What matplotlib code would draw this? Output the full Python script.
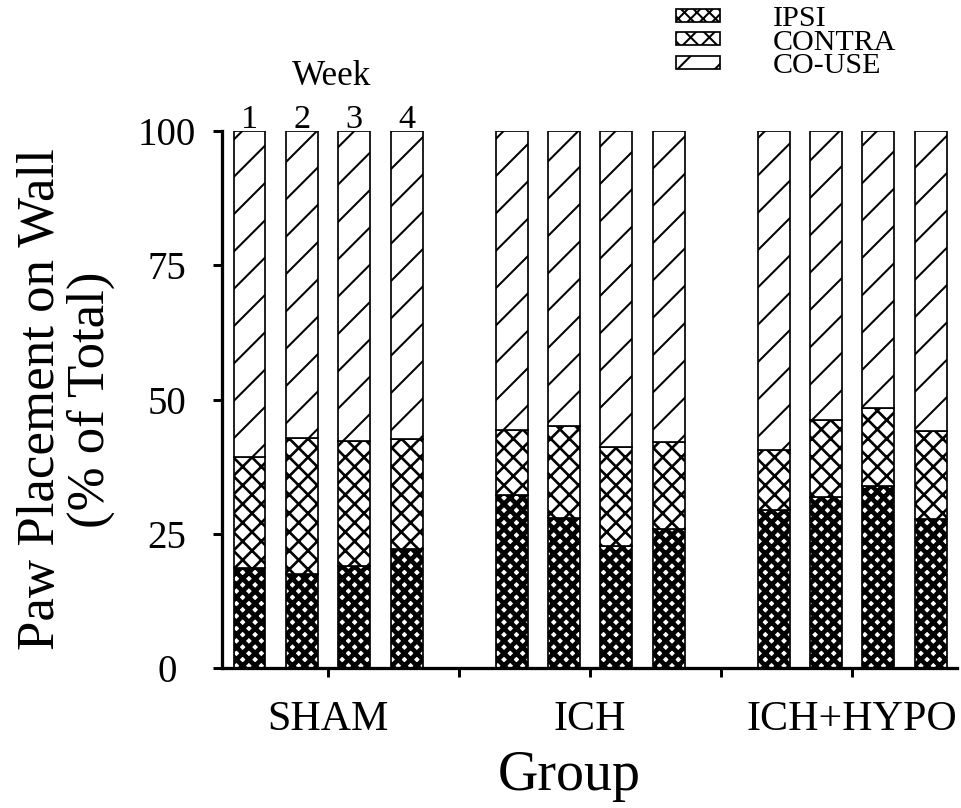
import numpy as np
import matplotlib
matplotlib.use("Agg")
import matplotlib.pyplot as plt
from matplotlib.patches import Patch

# Porcentaje de colocaciones de pata en la pared, por grupo y semana
groups = ["SHAM", "ICH", "ICH+HYPO"]
weeks = ["1", "2", "3", "4"]
ipsi = [18.7, 17.5, 19.0, 22.2,
        32.3, 27.9, 22.8, 25.8,
        29.4, 31.8, 33.9, 27.7]
contra = [20.5, 25.3, 23.3, 20.4,
          12.1, 17.2, 18.3, 16.3,
          11.2, 14.4, 14.5, 16.4]
co_use = [100 - a - b for a, b in zip(ipsi, contra)]
y_ticks = [0, 25, 50, 75, 100]

DPI = 112
plt.rcParams["font.family"] = ["Liberation Serif", "DejaVu Serif"]

fig = plt.figure(figsize=(961 / DPI, 808 / DPI), dpi=DPI)
ax = fig.add_axes([222 / 961, 140 / 808, 735 / 961, 537 / 808])

# posiciones: 4 barras por grupo, con un hueco de una barra entre grupos
x = np.array([g * 5 + w for g in range(len(groups)) for w in range(len(weeks))])
width = 0.61

ipsi = np.array(ipsi)
contra = np.array(contra)
co_use = np.array(co_use)

# estilo de rayado por serie (el grosor se toma de rcParams al crear cada barra)
styles = [("xxx", 3.0), ("xx", 1.7), ("/", 1.3)]

plt.rcParams["hatch.linewidth"] = styles[0][1]
ax.bar(x, ipsi, width, color="white", edgecolor="black", linewidth=1.1,
       hatch=styles[0][0])
plt.rcParams["hatch.linewidth"] = styles[1][1]
ax.bar(x, contra, width, bottom=ipsi, color="white", edgecolor="black",
       linewidth=1.1, hatch=styles[1][0])
plt.rcParams["hatch.linewidth"] = styles[2][1]
ax.bar(x, co_use, width, bottom=ipsi + contra, color="white", edgecolor="black",
       linewidth=1.1, hatch=styles[2][0])

ax.set_ylim(0, 100)
ax.set_xlim(-0.525, 13.5)
ax.set_yticks(y_ticks)
ax.set_yticklabels([str(t) for t in y_ticks], fontsize=25)
for lbl in ax.get_yticklabels():
    lbl.set_ha("center")

centers = [g * 5 + 1.5 for g in range(len(groups))]
between = [g * 5 + 4 for g in range(len(groups) - 1)]
ax.set_xticks(centers)
ax.set_xticklabels(groups, fontsize=27)
ax.set_xticks(between, minor=True)

ax.tick_params(axis="y", direction="out", length=5.5, width=1.9, pad=30)
ax.tick_params(axis="x", which="both", direction="out", length=5.5, width=1.9, pad=15.5)

for s in ["top", "right"]:
    ax.spines[s].set_visible(False)
for s in ["left", "bottom"]:
    ax.spines[s].set_linewidth(2.1)

ax.set_ylabel("Paw Placement on Wall\n(% of Total)", fontsize=34, linespacing=1.05,
              va="center")
ax.yaxis.set_label_coords(-0.212, 0.5)
ax.set_xlabel("Group", fontsize=36, labelpad=7)
ax.xaxis.label.set_x(0.473)

# etiquetas de semana sobre las barras del primer grupo
for w, lab in enumerate(weeks):
    ax.text(x[w], 100.6, lab, ha="center", va="baseline", fontsize=22, clip_on=False)
ax.text(1.556, 108.6, "Week", ha="center", va="baseline", fontsize=22.5, clip_on=False)

handles = []
for (hatch, lw), name in zip(styles, ["IPSI", "CONTRA", "CO-USE"]):
    plt.rcParams["hatch.linewidth"] = lw
    handles.append(Patch(facecolor="white", edgecolor="black", linewidth=1.1,
                         hatch=hatch, label=name))
fig.legend(handles=handles, loc="upper left", bbox_to_anchor=(676 / 961, 1 - 6 / 808),
           frameon=False, fontsize=19.3, handlelength=1.46, handleheight=0.3,
           handletextpad=1.76, labelspacing=-0.08, borderaxespad=0, borderpad=0)

fig.savefig("out.png", dpi=DPI)
